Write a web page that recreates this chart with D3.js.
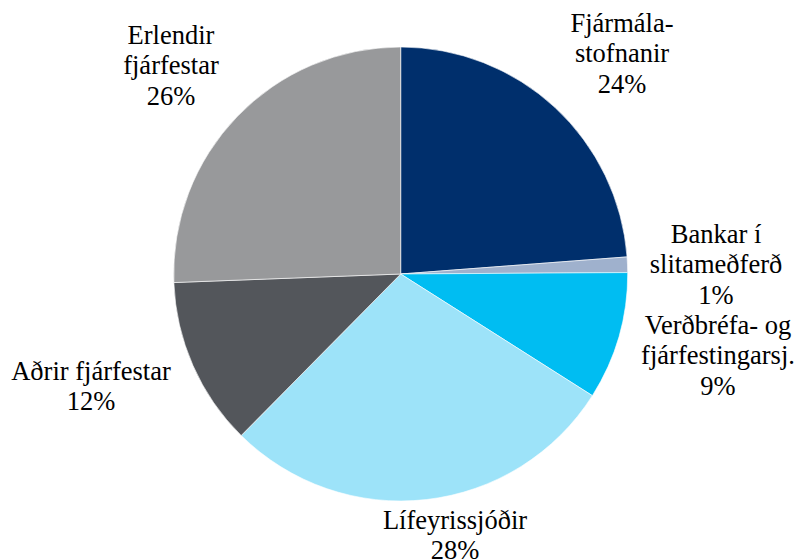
<!DOCTYPE html>
<html>
<head>
<meta charset="utf-8">
<script src="https://cdn.jsdelivr.net/npm/d3@7"></script>
<style>
  html, body { margin: 0; padding: 0; background: #fff; }
  #wrap { position: relative; width: 797px; height: 560px; overflow: hidden; }
  svg { display: block; position: absolute; left: 0; top: 0; }
  .lbl { position: absolute; white-space: nowrap; font-family: "Liberation Serif", Tinos, "Times New Roman", serif; font-size: 26.5px; color: #000; transform: translateX(-50%); line-height: 30.3px; text-align: center; }
</style>
</head>
<body>
<div id="wrap">
<svg id="chart" width="797" height="560"></svg>
</div>
<script>
// Data
const categories = ["Fjármálastofnanir", "Bankar í slitameðferð", "Verðbréfa- og fjárfestingarsj.", "Lífeyrissjóðir", "Aðrir fjárfestar", "Erlendir fjárfestar"];
const values = [23.8, 1.1, 9.1, 28.4, 12.0, 25.6];
const labelLines = [
  ["Fjármála-", "stofnanir"],
  ["Bankar í", "slitameðferð"],
  ["Verðbréfa- og", "fjárfestingarsj."],
  ["Lífeyrissjóðir"],
  ["Aðrir fjárfestar"],
  ["Erlendir", "fjárfestar"]
];
const colors = ["#002f6c", "#9fb1cd", "#00bdf2", "#9de3f9", "#53565b", "#98999b"];

// Layout
const cx = 400.7, cy = 274, radius = 227;
// label centre x, baseline y of first line
const labelPos = [
  [622, 30], [716, 241], [718, 332], [455, 527], [91, 378], [171, 42]
];
const lineH = 30.3;

const svg = d3.select("#chart");
const g = svg.append("g").attr("transform", `translate(${cx},${cy})`);
const pie = d3.pie().sort(null).value(d => d);
const arc = d3.arc().innerRadius(0).outerRadius(radius);

g.selectAll("path")
  .data(pie(values))
  .join("path")
  .attr("d", arc)
  .attr("fill", (d, i) => colors[i])
  .attr("stroke", "#ffffff")
  .attr("stroke-width", 0.6);

const fmt = v => d3.format(".0f")(v) + "%";
const wrap = d3.select("#wrap");

// HTML text labels; baseline offset inside a 30.3px line box at 26.5px font ≈ 22px
categories.forEach((c, i) => {
  const lines = labelLines[i].concat([fmt(values[i])]);
  lines.forEach((ln, j) => {
    wrap.append("div")
      .attr("class", "lbl")
      .style("left", labelPos[i][0] + "px")
      .style("top", (labelPos[i][1] + j * lineH - 22) + "px")
      .text(ln);
  });
});
</script>
</body>
</html>
